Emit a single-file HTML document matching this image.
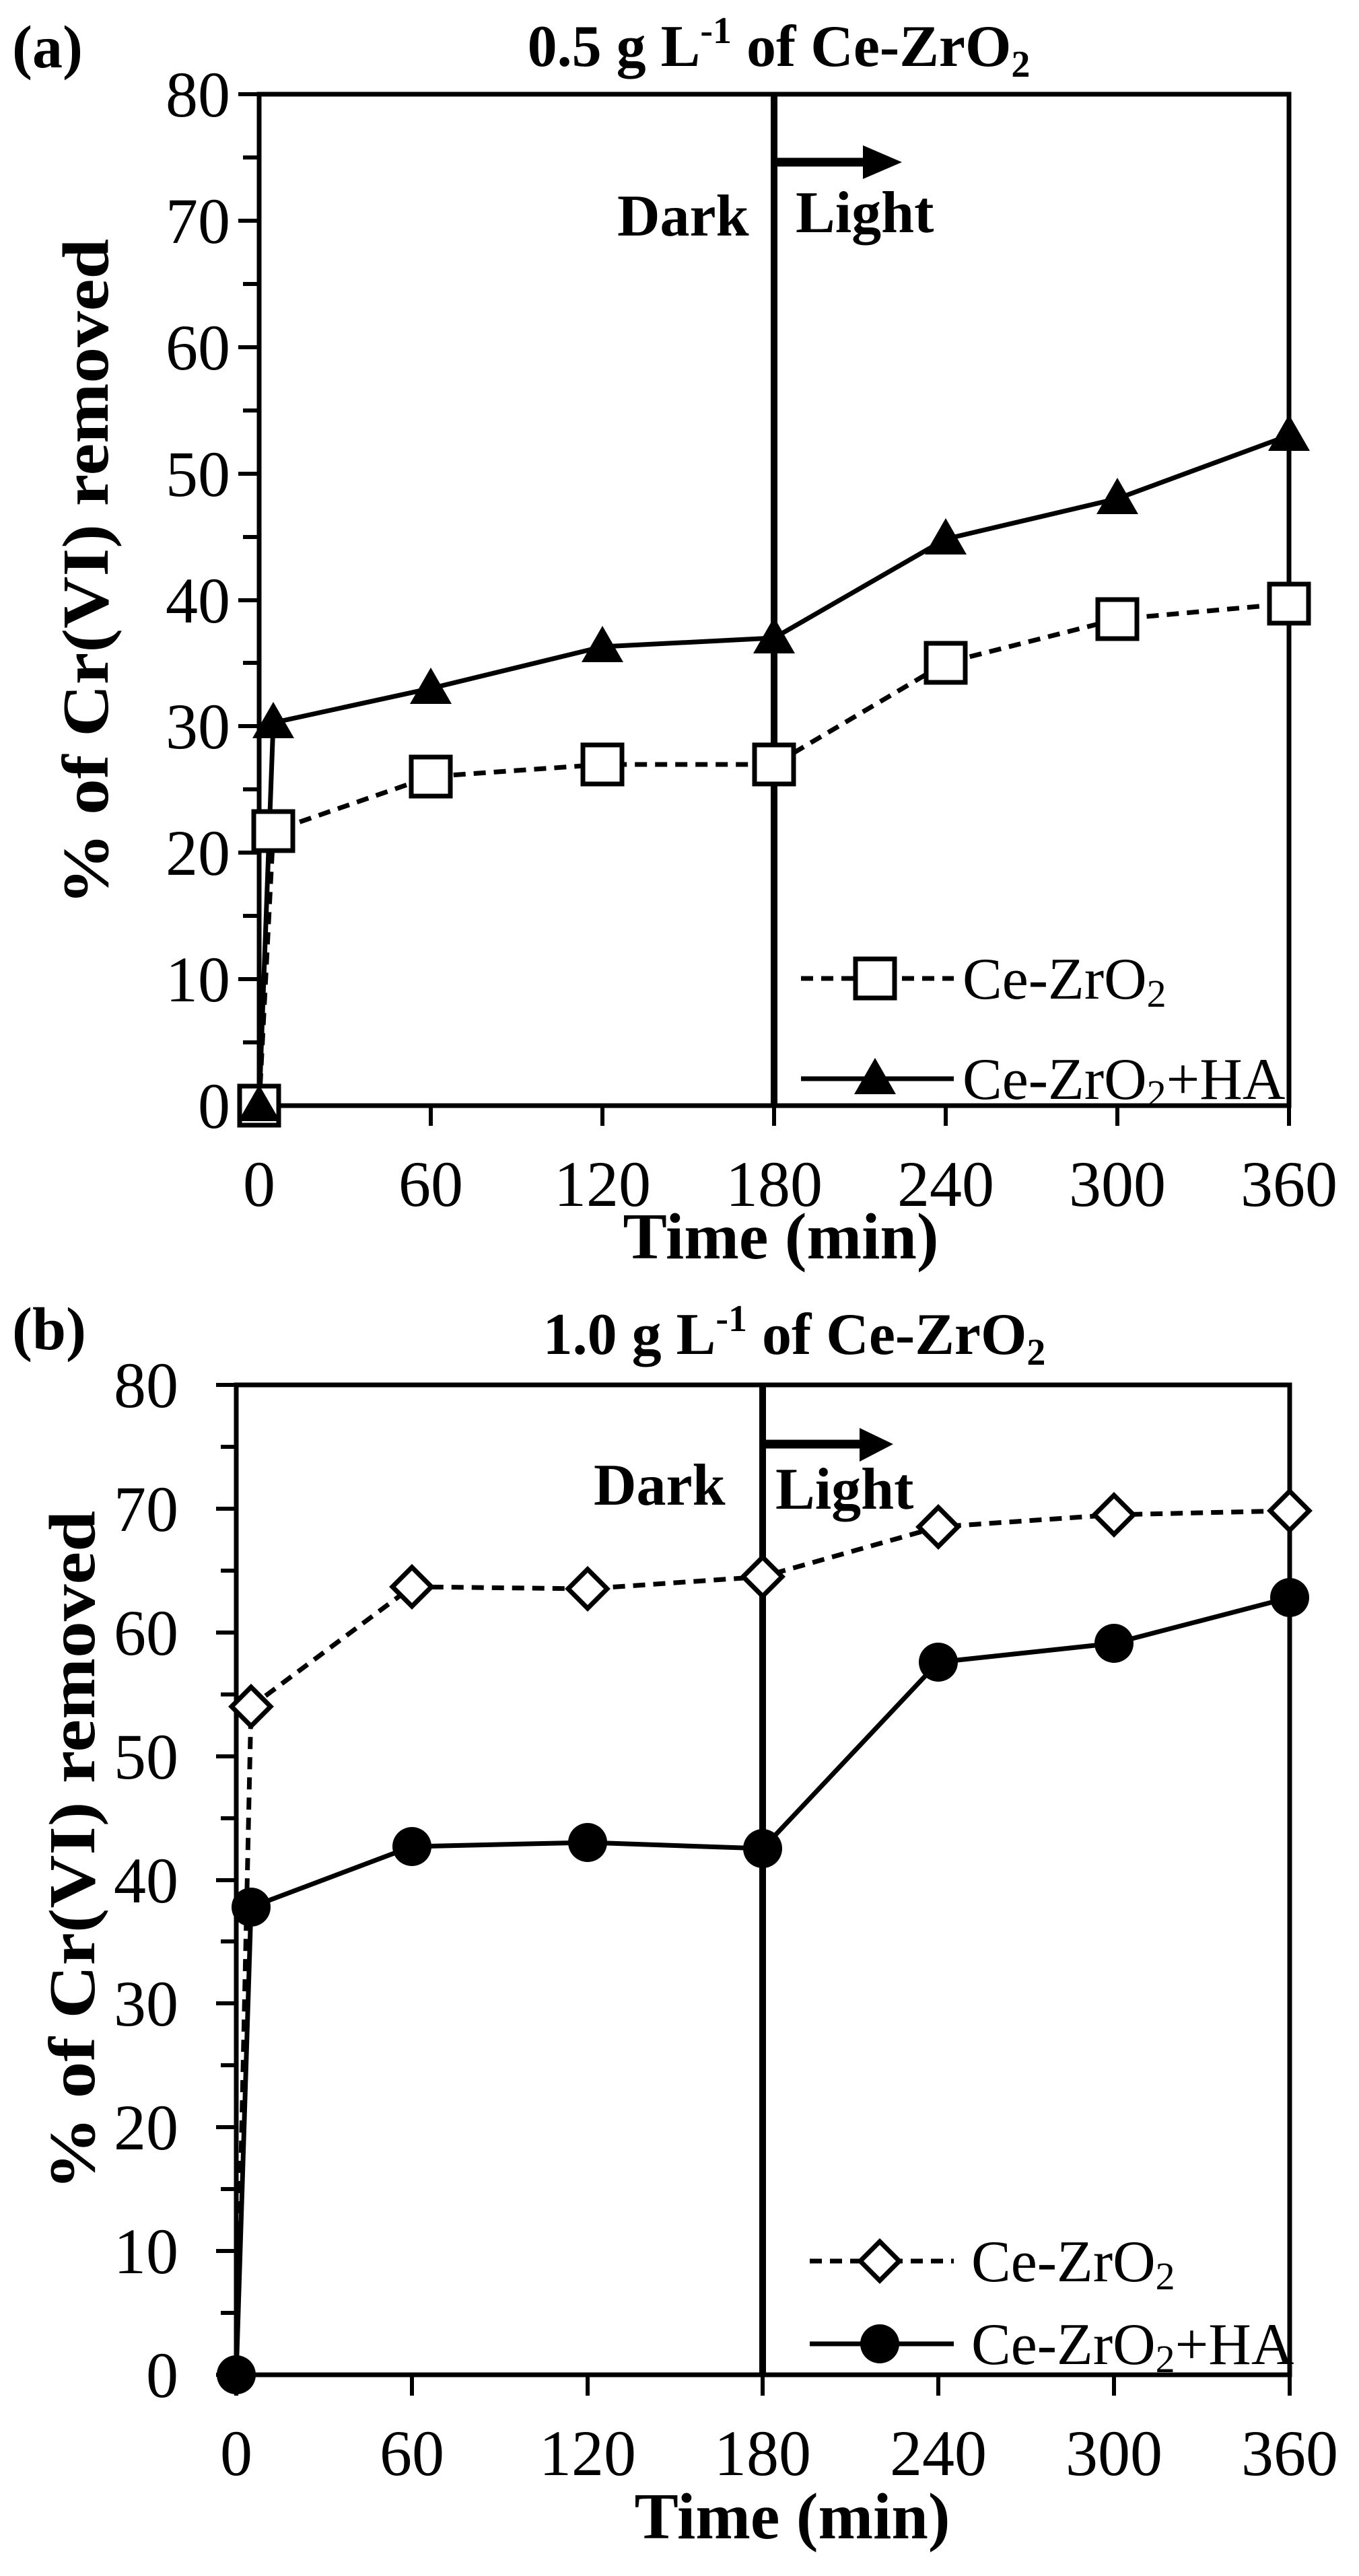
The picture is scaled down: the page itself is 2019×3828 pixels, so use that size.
<!DOCTYPE html>
<html><head><meta charset="utf-8"><style>
html,body{margin:0;padding:0;background:#fff;}
svg{display:block;}
text{font-family:"Liberation Serif",serif;fill:#000;}
.b{font-weight:bold;}
</style></head><body>
<svg width="2019" height="3828" viewBox="0 0 2019 3828" xmlns="http://www.w3.org/2000/svg">
<!-- ================= PANEL A ================= -->
<g>
<text x="18" y="100" class="b" font-size="90">(a)</text>
<text x="1157" y="98" class="b" font-size="88" text-anchor="middle">0.5 g L<tspan font-size="56" dy="-34">-1</tspan><tspan dy="34"> of Ce-ZrO</tspan><tspan font-size="56" dy="16">2</tspan></text>
<rect x="385" y="140" width="1530" height="1503" fill="none" stroke="#000" stroke-width="7"/>
<line x1="1150" y1="140" x2="1150" y2="1643" stroke="#000" stroke-width="10"/>
<g stroke="#000" stroke-width="6">
<line x1="354" y1="140" x2="385" y2="140"/><line x1="361" y1="234" x2="385" y2="234"/>
<line x1="354" y1="328" x2="385" y2="328"/><line x1="361" y1="422" x2="385" y2="422"/>
<line x1="354" y1="516" x2="385" y2="516"/><line x1="361" y1="610" x2="385" y2="610"/>
<line x1="354" y1="704" x2="385" y2="704"/><line x1="361" y1="798" x2="385" y2="798"/>
<line x1="354" y1="892" x2="385" y2="892"/><line x1="361" y1="985" x2="385" y2="985"/>
<line x1="354" y1="1079" x2="385" y2="1079"/><line x1="361" y1="1173" x2="385" y2="1173"/>
<line x1="354" y1="1267" x2="385" y2="1267"/><line x1="361" y1="1361" x2="385" y2="1361"/>
<line x1="354" y1="1455" x2="385" y2="1455"/><line x1="361" y1="1549" x2="385" y2="1549"/>
<line x1="354" y1="1643" x2="385" y2="1643"/>
<line x1="385" y1="1643" x2="385" y2="1673"/><line x1="640" y1="1643" x2="640" y2="1673"/>
<line x1="895" y1="1643" x2="895" y2="1673"/><line x1="1150" y1="1643" x2="1150" y2="1673"/>
<line x1="1405" y1="1643" x2="1405" y2="1673"/><line x1="1660" y1="1643" x2="1660" y2="1673"/>
<line x1="1915" y1="1643" x2="1915" y2="1673"/>
</g>
<g font-size="96" text-anchor="end">
<text x="342" y="173">80</text><text x="342" y="361">70</text><text x="342" y="549">60</text>
<text x="342" y="737">50</text><text x="342" y="925">40</text><text x="342" y="1112">30</text>
<text x="342" y="1300">20</text><text x="342" y="1488">10</text><text x="342" y="1676">0</text>
</g>
<g font-size="96" text-anchor="middle">
<text x="385" y="1792">0</text><text x="640" y="1792">60</text><text x="895" y="1792">120</text>
<text x="1150" y="1792">180</text><text x="1405" y="1792">240</text><text x="1660" y="1792">300</text>
<text x="1915" y="1792">360</text>
</g>
<text x="1160" y="1870" class="b" font-size="98" text-anchor="middle">Time (min)</text>
<text transform="translate(160,850) rotate(-90)" class="b" font-size="98" text-anchor="middle" textLength="990" lengthAdjust="spacingAndGlyphs">% of Cr(VI) removed</text>
<text x="917" y="350" class="b" font-size="88">Dark</text>
<text x="1182" y="345" class="b" font-size="88">Light</text>
<line x1="1150" y1="241" x2="1290" y2="241" stroke="#000" stroke-width="13"/>
<polygon points="1282,216 1340,241 1282,266" fill="#000"/>
<polyline points="385,1643 406,1235 640,1154 895,1136 1150,1136 1405,985 1660,920 1915,897" fill="none" stroke="#000" stroke-width="7" stroke-dasharray="18,12"/>
<polyline points="385,1643 406,1074 640,1023 895,961 1150,948 1405,801 1660,741 1915,647" fill="none" stroke="#000" stroke-width="7"/>
<g fill="#fff" stroke="#000" stroke-width="7">
<rect x="356" y="1614" width="58" height="58"/><rect x="377" y="1206" width="58" height="58"/>
<rect x="611" y="1125" width="58" height="58"/><rect x="866" y="1107" width="58" height="58"/>
<rect x="1121" y="1107" width="58" height="58"/><rect x="1376" y="956" width="58" height="58"/>
<rect x="1631" y="891" width="58" height="58"/><rect x="1886" y="868" width="58" height="58"/>
</g>
<g fill="#000">
<polygon points="385,1612 416,1666 354,1666"/><polygon points="406,1043 437,1097 375,1097"/>
<polygon points="640,992 671,1046 609,1046"/><polygon points="895,930 926,984 864,984"/>
<polygon points="1150,917 1181,971 1119,971"/><polygon points="1405,770 1436,824 1374,824"/>
<polygon points="1660,710 1691,764 1629,764"/><polygon points="1915,616 1946,670 1884,670"/>
</g>
<line x1="1190" y1="1454" x2="1417" y2="1454" stroke="#000" stroke-width="7" stroke-dasharray="18,12"/>
<rect x="1271" y="1425" width="58" height="58" fill="#fff" stroke="#000" stroke-width="7"/>
<text x="1430" y="1484" font-size="88">Ce-ZrO<tspan font-size="58" dy="12">2</tspan></text>
<line x1="1190" y1="1603" x2="1417" y2="1603" stroke="#000" stroke-width="7"/>
<polygon points="1300,1572 1331,1626 1269,1626" fill="#000"/>
<text x="1430" y="1633" font-size="88">Ce-ZrO<tspan font-size="58" dy="12">2</tspan><tspan dy="-12">+HA</tspan></text>
</g>

<!-- ================= PANEL B ================= -->
<g>
<text x="18" y="2005" class="b" font-size="90">(b)</text>
<text x="1180" y="2012" class="b" font-size="88" text-anchor="middle">1.0 g L<tspan font-size="56" dy="-34">-1</tspan><tspan dy="34"> of Ce-ZrO</tspan><tspan font-size="56" dy="16">2</tspan></text>
<rect x="351" y="2058" width="1565" height="1471" fill="none" stroke="#000" stroke-width="7"/>
<line x1="1133" y1="2058" x2="1133" y2="3529" stroke="#000" stroke-width="10"/>
<g stroke="#000" stroke-width="6">
<line x1="321" y1="2058" x2="351" y2="2058"/><line x1="328" y1="2150" x2="351" y2="2150"/>
<line x1="321" y1="2242" x2="351" y2="2242"/><line x1="328" y1="2334" x2="351" y2="2334"/>
<line x1="321" y1="2426" x2="351" y2="2426"/><line x1="328" y1="2518" x2="351" y2="2518"/>
<line x1="321" y1="2610" x2="351" y2="2610"/><line x1="328" y1="2702" x2="351" y2="2702"/>
<line x1="321" y1="2794" x2="351" y2="2794"/><line x1="328" y1="2885" x2="351" y2="2885"/>
<line x1="321" y1="2977" x2="351" y2="2977"/><line x1="328" y1="3069" x2="351" y2="3069"/>
<line x1="321" y1="3161" x2="351" y2="3161"/><line x1="328" y1="3253" x2="351" y2="3253"/>
<line x1="321" y1="3345" x2="351" y2="3345"/><line x1="328" y1="3437" x2="351" y2="3437"/>
<line x1="321" y1="3529" x2="351" y2="3529"/>
<line x1="351" y1="3529" x2="351" y2="3560"/><line x1="612" y1="3529" x2="612" y2="3560"/>
<line x1="873" y1="3529" x2="873" y2="3560"/><line x1="1133" y1="3529" x2="1133" y2="3560"/>
<line x1="1394" y1="3529" x2="1394" y2="3560"/><line x1="1655" y1="3529" x2="1655" y2="3560"/>
<line x1="1916" y1="3529" x2="1916" y2="3560"/>
</g>
<g font-size="96" text-anchor="end">
<text x="265" y="2091">80</text><text x="265" y="2275">70</text><text x="265" y="2459">60</text>
<text x="265" y="2643">50</text><text x="265" y="2827">40</text><text x="265" y="3010">30</text>
<text x="265" y="3194">20</text><text x="265" y="3378">10</text><text x="265" y="3562">0</text>
</g>
<g font-size="96" text-anchor="middle">
<text x="351" y="3678">0</text><text x="612" y="3678">60</text><text x="873" y="3678">120</text>
<text x="1133" y="3678">180</text><text x="1394" y="3678">240</text><text x="1655" y="3678">300</text>
<text x="1916" y="3678">360</text>
</g>
<text x="1177" y="3772" class="b" font-size="98" text-anchor="middle">Time (min)</text>
<text transform="translate(140,2750) rotate(-90)" class="b" font-size="98" text-anchor="middle" textLength="1010" lengthAdjust="spacingAndGlyphs">% of Cr(VI) removed</text>
<text x="882" y="2236" class="b" font-size="88">Dark</text>
<text x="1152" y="2242" class="b" font-size="88">Light</text>
<line x1="1133" y1="2146" x2="1280" y2="2146" stroke="#000" stroke-width="13"/>
<polygon points="1277,2122 1327,2146 1277,2172" fill="#000"/>
<polyline points="351,3529 373,2536 612,2358 873,2361 1133,2343 1394,2269 1655,2251 1916,2245" fill="none" stroke="#000" stroke-width="7" stroke-dasharray="18,12"/>
<polyline points="351,3529 373,2834 612,2744 873,2738 1133,2747 1394,2470 1655,2442 1916,2374" fill="none" stroke="#000" stroke-width="7"/>
<g fill="#fff" stroke="#000" stroke-width="7">
<polygon points="373,2507 402,2536 373,2565 344,2536"/>
<polygon points="612,2329 641,2358 612,2387 583,2358"/>
<polygon points="873,2332 902,2361 873,2390 844,2361"/>
<polygon points="1133,2314 1162,2343 1133,2372 1104,2343"/>
<polygon points="1394,2240 1423,2269 1394,2298 1365,2269"/>
<polygon points="1655,2222 1684,2251 1655,2280 1626,2251"/>
<polygon points="1916,2216 1945,2245 1916,2274 1887,2245"/>
</g>
<g fill="#000">
<circle cx="351" cy="3529" r="29"/><circle cx="373" cy="2834" r="29"/>
<circle cx="612" cy="2744" r="29"/><circle cx="873" cy="2738" r="29"/>
<circle cx="1133" cy="2747" r="29"/><circle cx="1394" cy="2470" r="29"/>
<circle cx="1655" cy="2442" r="29"/><circle cx="1916" cy="2374" r="29"/>
</g>
<line x1="1203" y1="3360" x2="1417" y2="3360" stroke="#000" stroke-width="7" stroke-dasharray="18,12"/>
<polygon points="1307,3331 1336,3360 1307,3389 1278,3360" fill="#fff" stroke="#000" stroke-width="7"/>
<text x="1443" y="3390" font-size="88">Ce-ZrO<tspan font-size="58" dy="12">2</tspan></text>
<line x1="1203" y1="3483" x2="1417" y2="3483" stroke="#000" stroke-width="7"/>
<circle cx="1307" cy="3483" r="29" fill="#000"/>
<text x="1443" y="3513" font-size="88">Ce-ZrO<tspan font-size="58" dy="12">2</tspan><tspan dy="-12">+HA</tspan></text>
</g>
</svg>
</body></html>
